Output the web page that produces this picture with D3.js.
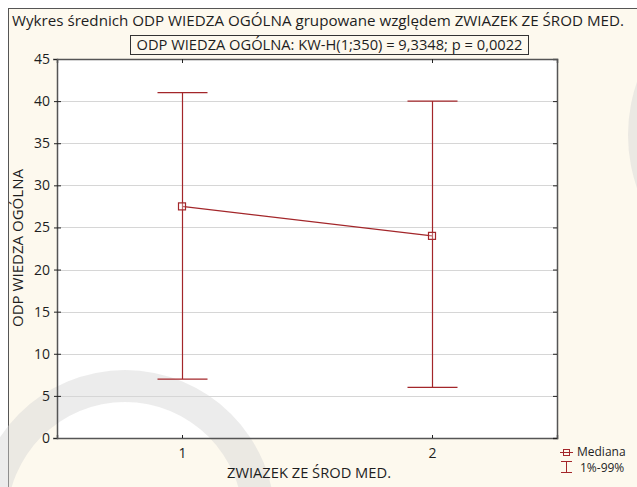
<!DOCTYPE html>
<html lang="pl">
<head>
<meta charset="UTF-8">
<title>Wykres średnich</title>
<script src="https://d3js.org/d3.v7.min.js"></script>
<style>
  body { margin: 0; background: #fff; }
  svg text { font-family: "Open Sans", "Noto Sans", sans-serif; fill: #1e1e1e; }
</style>
</head>
<body>
<svg width="637" height="487"></svg>
<script>
const categories = ["1", "2"];
const medians = [27.5, 24];
const lows = [7, 6];     // 1%
const highs = [41, 40];  // 99%
const yTicks = [0, 5, 10, 15, 20, 25, 30, 35, 40, 45];

const title = "Wykres średnich ODP WIEDZA OGÓLNA grupowane względem ZWIAZEK ZE ŚROD MED.";
const subtitle = "ODP WIEDZA OGÓLNA:  KW-H(1;350) = 9,3348; p = 0,0022";
const xTitle = "ZWIAZEK ZE ŚROD MED.";
const yTitle = "ODP WIEDZA OGÓLNA";

const red = "#a3262a";
const margin = { left: 57, right: 557, top: 59, bottom: 438 };

const svg = d3.select("svg");

// frame
svg.append("rect").attr("x", 8.5).attr("y", 8.5).attr("width", 640).attr("height", 490)
  .attr("fill", "#fdf9ee").attr("stroke", "#555").attr("stroke-width", 1);

// plot background
svg.append("rect").attr("x", margin.left).attr("y", margin.top)
  .attr("width", margin.right - margin.left).attr("height", margin.bottom - margin.top)
  .attr("fill", "#fff");

// watermark arcs
const arc = d3.arc();
svg.append("path")
  .attr("transform", "translate(125,520)")
  .attr("d", arc({ innerRadius: 118, outerRadius: 150, startAngle: -Math.PI, endAngle: Math.PI }))
  .attr("fill", "#d4d4d4").attr("opacity", 0.45);
svg.append("path")
  .attr("transform", "translate(790,135)")
  .attr("d", arc({ innerRadius: 125, outerRadius: 162, startAngle: -Math.PI, endAngle: Math.PI }))
  .attr("fill", "#d4d4d4").attr("opacity", 0.45);

const x = d3.scaleLinear().domain([0.5, 2.5]).range([margin.left, margin.right]);
const y = d3.scaleLinear().domain([0, 45]).range([margin.bottom, margin.top]);

// gridlines
svg.append("g").selectAll("line").data(yTicks.slice(1, -1)).join("line")
  .attr("x1", margin.left).attr("x2", margin.right)
  .attr("y1", d => Math.round(y(d)) + 0.5).attr("y2", d => Math.round(y(d)) + 0.5)
  .attr("stroke", "#d6d6d6");

// axes
const xPos = categories.map((c, i) => i + 1);
const fontSize = 14;

const gLeft = svg.append("g").attr("transform", `translate(${margin.left},0)`)
  .call(d3.axisLeft(y).tickValues(yTicks).tickSize(4).tickPadding(3));
const gBottom = svg.append("g").attr("transform", `translate(0,${margin.bottom})`)
  .call(d3.axisBottom(x).tickValues(xPos).tickFormat((d, i) => categories[i]).tickSize(-3).tickPadding(10));
const gRight = svg.append("g").attr("transform", `translate(${margin.right},0)`)
  .call(d3.axisLeft(y).tickValues(yTicks).tickSize(4).tickFormat(""));
const gTop = svg.append("g").attr("transform", `translate(0,${margin.top})`)
  .call(d3.axisBottom(x).tickValues(xPos).tickSize(4).tickFormat(""));

[gLeft, gBottom, gRight, gTop].forEach(g => {
  g.attr("font-size", null).attr("font-family", null);
  g.select(".domain").attr("stroke", "#555").attr("stroke-width", 1.5);
  g.selectAll(".tick line").attr("stroke", "#222");
  g.selectAll("text").style("font-size", fontSize + "px").attr("fill", "#1e1e1e");
});
gLeft.selectAll(".tick line").attr("x2", 4).attr("x1", -3);

// error bars
const capW = 25;
const bars = svg.append("g").attr("stroke", red).attr("stroke-width", 1.2).attr("fill", "none");
xPos.forEach((p, i) => {
  const cx = Math.round(x(p)) + 0.5;
  bars.append("line").attr("x1", cx).attr("x2", cx).attr("y1", y(lows[i])).attr("y2", y(highs[i]));
  bars.append("line").attr("x1", cx - capW).attr("x2", cx + capW).attr("y1", y(lows[i])).attr("y2", y(lows[i]));
  bars.append("line").attr("x1", cx - capW).attr("x2", cx + capW).attr("y1", y(highs[i])).attr("y2", y(highs[i]));
});

// median line + markers
svg.append("path")
  .datum(medians)
  .attr("d", d3.line().x((d, i) => x(xPos[i])).y(d => y(d)))
  .attr("stroke", red).attr("stroke-width", 1.2).attr("fill", "none");
svg.append("g").selectAll("rect").data(medians).join("rect")
  .attr("x", (d, i) => x(xPos[i]) - 3.5).attr("y", d => y(d) - 3.5)
  .attr("width", 7).attr("height", 7)
  .attr("fill", "#fff").attr("fill-opacity", 0.3).attr("stroke", red).attr("stroke-width", 1.2);

// titles squeezed to the reference widths
function fitText(sel, w) {
  sel.attr("textLength", w).attr("lengthAdjust", "spacingAndGlyphs");
}
const t = svg.append("text").attr("x", 318).attr("y", 26).attr("text-anchor", "middle")
  .attr("font-size", 14).text(title);
fitText(t, 612);

svg.append("rect").attr("x", 130.5).attr("y", 35.5).attr("width", 398).attr("height", 19)
  .attr("fill", "none").attr("stroke", "#333").attr("stroke-width", 1);
const st = svg.append("text").attr("x", 329.5).attr("y", 50).attr("text-anchor", "middle")
  .attr("font-size", 14).text(subtitle);
fitText(st, 386);

const xt = svg.append("text").attr("x", 309).attr("y", 478).attr("text-anchor", "middle")
  .attr("font-size", 14).text(xTitle);
fitText(xt, 164);

const yt = svg.append("text").attr("transform", "translate(23,248) rotate(-90)")
  .attr("text-anchor", "middle").attr("font-size", 14).text(yTitle);
fitText(yt, 158);

// legend
const lg = svg.append("g");
lg.append("rect").attr("x", 563.5).attr("y", 449.5).attr("width", 6).attr("height", 6)
  .attr("fill", "none").attr("stroke", red);
lg.append("line").attr("x1", 560).attr("x2", 573).attr("y1", 452.5).attr("y2", 452.5).attr("stroke", red);
lg.append("text").attr("x", 577).attr("y", 456).attr("font-size", 12).text("Mediana");
lg.append("line").attr("x1", 561).attr("x2", 572).attr("y1", 461.5).attr("y2", 461.5).attr("stroke", red);
lg.append("line").attr("x1", 561).attr("x2", 572).attr("y1", 472.5).attr("y2", 472.5).attr("stroke", red);
lg.append("line").attr("x1", 566.5).attr("x2", 566.5).attr("y1", 461.5).attr("y2", 472.5).attr("stroke", red);
lg.append("text").attr("x", 580).attr("y", 472).attr("font-size", 12).text("1%-99%");
</script>
</body>
</html>
